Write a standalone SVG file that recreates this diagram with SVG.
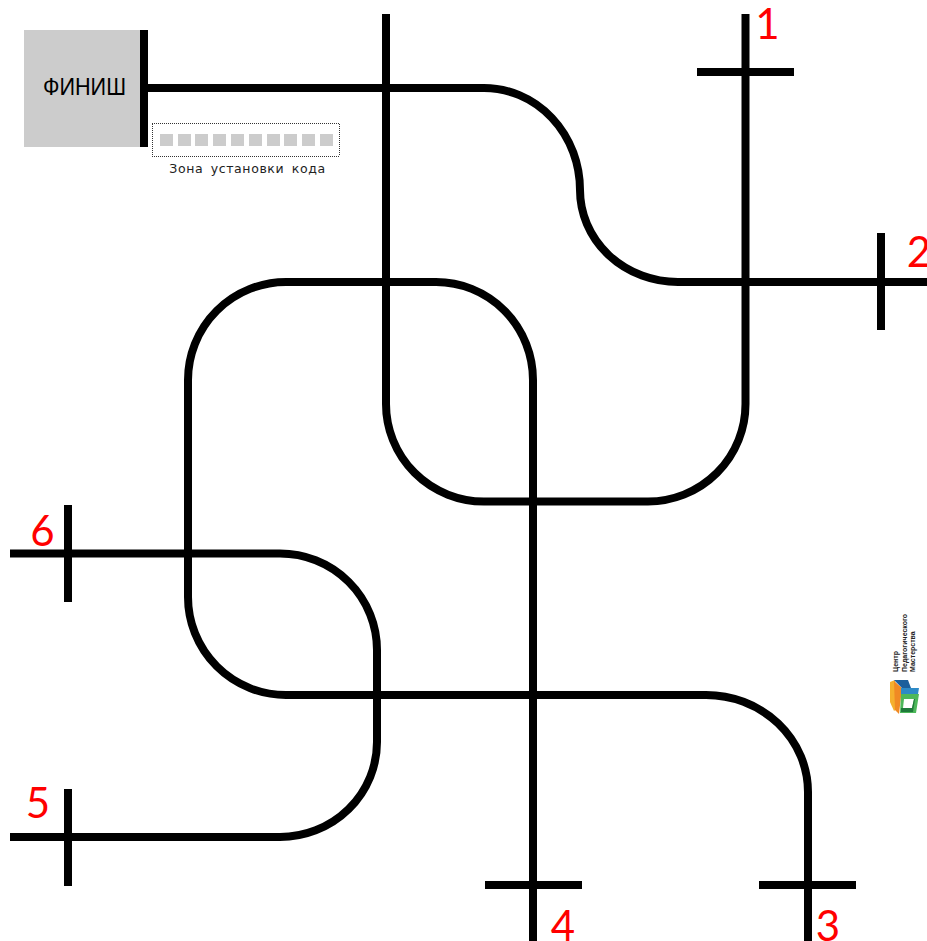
<svg xmlns="http://www.w3.org/2000/svg" width="927" height="941" viewBox="0 0 927 941">
<style>
.t{fill:none;stroke:#000;stroke-width:8}
.n{font-family:"Lato","Open Sans",sans-serif;font-size:42px;fill:#f00}
.c{fill:#ccc}
.l{font-family:"Liberation Sans",sans-serif;font-size:7px;font-weight:bold;fill:#222}
</style>
<rect width="927" height="941" fill="#fff"/>
<g id="finish">
<rect class="c" x="24" y="30" width="117" height="117"/>
<text x="43" y="95" textLength="83" lengthAdjust="spacingAndGlyphs" font-family="Liberation Sans, sans-serif" font-size="24" fill="#000">ФИНИШ</text>
</g>
<g id="code-zone">
<path d="M152 123.500H340M152 156.500H340M152.500 124V156M339.500 124V156" fill="none" stroke="#333" stroke-width="1" stroke-dasharray="1 1"/>
<g class="c"><rect x="160" y="134" width="13" height="12"/><rect x="178" y="134" width="13" height="12"/><rect x="195" y="134" width="13" height="12"/><rect x="213" y="134" width="13" height="12"/><rect x="231" y="134" width="13" height="12"/><rect x="249" y="134" width="13" height="12"/><rect x="267" y="134" width="13" height="12"/><rect x="284" y="134" width="13" height="12"/><rect x="302" y="134" width="13" height="12"/><rect x="320" y="134" width="13" height="12"/></g>
<text x="247.500" y="173" text-anchor="middle" font-family="DejaVu Sans, sans-serif" font-size="12.500" letter-spacing="0.600" word-spacing="3" fill="#222">Зона установки кода</text>
</g>
<g id="connectors">
<path class="t" d="M148 88H484A96 102 0 0 1 580 190A98 92 0 0 0 678 282H927"/>
<path class="t" d="M386 14V404A98 97.500 0 0 0 484 501.500H648A97.500 97.500 0 0 0 745.500 404V14"/>
<path class="t" d="M533 941V380A97 98 0 0 0 436 282H286A98 98 0 0 0 188 380V597A98 98 0 0 0 286 695H706A102 97 0 0 1 808 792V941"/>
<path class="t" d="M10 553.500H280A97 96.500 0 0 1 377 650V742A97 95 0 0 1 280 837H10"/>
</g>
<g id="ticks">
<path d="M144 30V147" stroke="#000" stroke-width="8" fill="none"/>
<path class="t" d="M697 72H794M881 233V330M485 885H582M759 885H856M68 505V602M68 789V886"/>
</g>
<g id="labels">
<text class="n" x="767.500" y="39" text-anchor="middle">1</text>
<text class="n" x="919" y="267" text-anchor="middle">2</text>
<text class="n" x="828" y="941" text-anchor="middle">3</text>
<text class="n" x="563" y="941" text-anchor="middle">4</text>
<text class="n" x="38" y="818" text-anchor="middle">5</text>
<text class="n" x="42.500" y="546" text-anchor="middle">6</text>
</g>
<g id="logo">
<text class="l" transform="translate(897.500 672) rotate(-90)">Центр</text>
<text class="l" transform="translate(906.500 672) rotate(-90)">Педагогического</text>
<text class="l" transform="translate(915 672) rotate(-90)">Мастерства</text>
<path fill="#f5b02e" d="M890 682L895 680L898 708L894 711L890 702Z"/>
<path fill="#f08a24" d="M894 681L902 688L899 714L895 710Z"/>
<path fill="#1c5f9c" d="M894 680H908L911 688H902Z"/>
<path fill="#2d8ac7" d="M901 688H919L918 694H901Z"/>
<path fill="#4db85a" fill-rule="evenodd" d="M901 694H919L916 713H900ZM904 699L903 708H912L914 699Z"/>
<path fill="#1f7a3a" d="M901 708H912L914 699H915L913 712H901Z"/>
</g>
</svg>
